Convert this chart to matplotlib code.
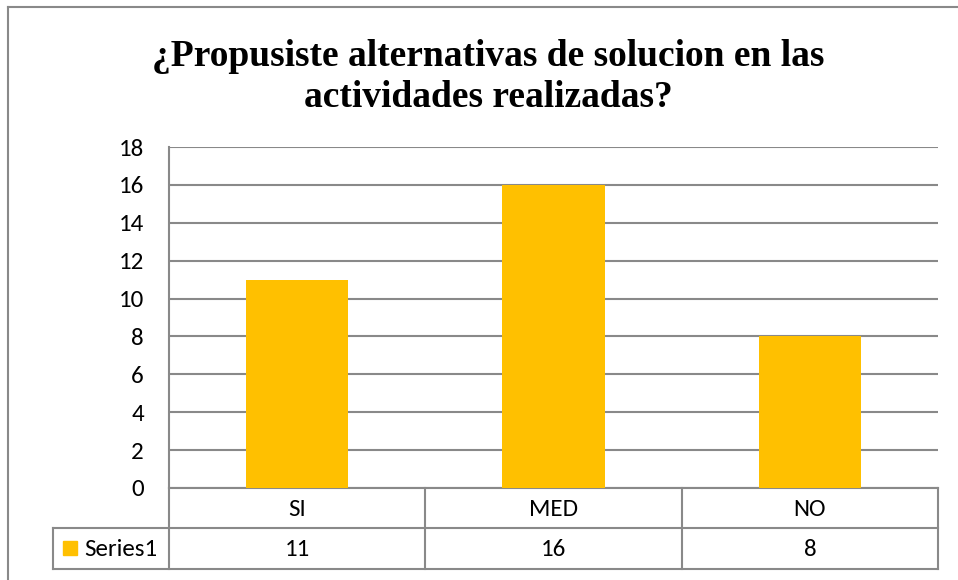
import matplotlib
matplotlib.use("Agg")
import matplotlib.pyplot as plt
from matplotlib import font_manager

# datos de la encuesta
categorias = ["SI", "MED", "NO"]
valores = [11, 16, 8]
serie = "Series1"
titulo = "¿Propusiste alternativas de solucion en las\nactividades realizadas?"
yticks = list(range(0, 20, 2))

W, H = 958, 580
amarillo = "#FFC000"
gris = "#898989"


def primera_fuente(nombres, defecto, peso="normal"):
    for nombre in nombres:
        try:
            font_manager.findfont(font_manager.FontProperties(family=nombre, weight=peso),
                                  fallback_to_default=False)
            return nombre
        except ValueError:
            pass
    return defecto


serif = primera_fuente(["Liberation Serif", "Times New Roman"], "DejaVu Serif", "bold")
sans = primera_fuente(["Carlito", "Calibri", "Lato"], "DejaVu Sans")
fuente = [sans, "DejaVu Sans"]
tam = 18 if sans in ("Carlito", "Calibri") else 17

fig = plt.figure(figsize=(W / 100, H / 100), dpi=100)

# capa en pixeles para marco, tabla y textos
bg = fig.add_axes([0, 0, 1, 1])
bg.set_xlim(0, W)
bg.set_ylim(H, 0)
bg.axis("off")

# area del grafico (pixeles)
x0, x1, y0, y1 = 169, 938, 147, 488
ax = fig.add_axes([x0 / W, 1 - y1 / H, (x1 - x0) / W, (y1 - y0) / H])
ax.bar(range(len(categorias)), valores, width=0.40, color=amarillo, zorder=3)
ax.set_xlim(-0.5, len(categorias) - 0.5)
ax.set_ylim(0, 18)
ax.set_yticks(yticks)
ax.set_yticklabels([str(t) for t in yticks], fontsize=tam, family=fuente)
ax.tick_params(axis="y", length=0, pad=18)
ax.set_xticks([])
ax.grid(axis="y", color=gris, lw=1.5, zorder=0)
for s in ["top", "right", "bottom"]:
    ax.spines[s].set_visible(False)
ax.spines["left"].set_color(gris)
ax.spines["left"].set_linewidth(1.5)
ax.patch.set_alpha(0)

# marco del grafico
bg.plot([8, W], [7, 7], color=gris, lw=1.5)
bg.plot([8, 8], [7, H], color=gris, lw=1.5)

# titulo
bg.text(488, 77, titulo, ha="center", va="center", fontsize=27, fontweight="bold",
        family=serif, linespacing=1.2)

# tabla de datos
r0, r1, r2 = 488, 528, 569
ancho = (x1 - x0) / len(categorias)
bordes = [x0 + i * ancho for i in range(len(categorias) + 1)]
for yy in (r0, r1, r2):
    bg.plot([x0 if yy == r0 else 53, x1], [yy, yy], color=gris, lw=1.5)
for xx in bordes:
    bg.plot([xx, xx], [r0, r2], color=gris, lw=1.5)
bg.plot([53, 53], [r1, r2], color=gris, lw=1.5)

for i, (c, v) in enumerate(zip(categorias, valores)):
    xc = bordes[i] + ancho / 2
    bg.text(xc, (r0 + r1) / 2 + 1, c, ha="center", va="center", fontsize=tam, family=fuente)
    bg.text(xc, (r1 + r2) / 2 + 1, str(v), ha="center", va="center", fontsize=tam, family=fuente)

# leyenda de la serie
bg.add_patch(plt.Rectangle((63, 541), 14, 14, color=amarillo))
bg.text(84, (r1 + r2) / 2 + 1, serie, ha="left", va="center", fontsize=tam, family=fuente)

fig.savefig("out.png", dpi=100)
